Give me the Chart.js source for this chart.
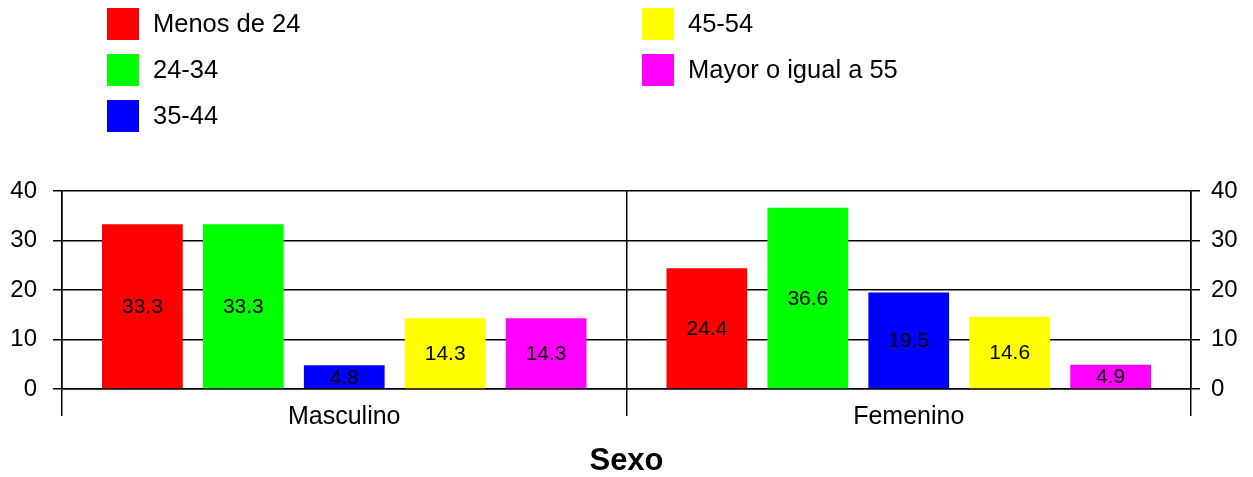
<!DOCTYPE html>
<html>
<head>
<meta charset="utf-8">
<script src="https://cdn.jsdelivr.net/npm/chart.js@4"></script>
<style>
  html, body { margin: 0; padding: 0; background: #fff; }
  #wrap { width: 1253px; height: 477px; }
</style>
</head>
<body>
<div id="wrap"><canvas id="grafico"></canvas></div>
<script>
// datos
var categorias = ["Masculino", "Femenino"];
var edades = ["Menos de 24", "24-34", "35-44", "45-54", "Mayor o igual a 55"];
var colores = ["#ff0000", "#00ff00", "#0000ff", "#ffff00", "#ff00ff"];
var menos24 = [33.3, 24.4];
var de24a34 = [33.3, 36.6];
var de35a44 = [4.8, 19.5];
var de45a54 = [14.3, 14.6];
var mayor55 = [14.3, 4.9];
var ticksY = [0, 10, 20, 30, 40];

var series = [menos24, de24a34, de35a44, de45a54, mayor55];
var fuente = "Arial, 'Liberation Sans', sans-serif";

// leyenda en dos columnas, dibujada a mano
var leyenda = {
  id: 'leyenda',
  afterDraw: function(chart) {
    var c = chart.ctx;
    c.save();
    c.font = "25.5px " + fuente;
    c.textBaseline = 'middle';
    c.textAlign = 'left';
    chart.data.datasets.forEach(function(ds, i) {
      var col = i < 3 ? 0 : 1;
      var fila = i < 3 ? i : i - 3;
      var x = col === 0 ? 107 : 642;
      var y = 8 + fila * 46;
      c.fillStyle = ds.backgroundColor;
      c.fillRect(x, y, 32, 32);
      c.fillStyle = '#000';
      c.fillText(ds.label, x + 46, y + 17);
    });
    c.restore();
  }
};

// valores dentro de las barras
var etiquetas = {
  id: 'etiquetas',
  afterDatasetsDraw: function(chart) {
    var c = chart.ctx;
    c.save();
    c.font = "21px " + fuente;
    c.fillStyle = '#000';
    c.textAlign = 'center';
    c.textBaseline = 'middle';
    chart.data.datasets.forEach(function(ds, i) {
      chart.getDatasetMeta(i).data.forEach(function(bar, j) {
        c.fillText(ds.data[j].toFixed(1), bar.x, (bar.y + bar.base) / 2 + 1);
      });
    });
    c.restore();
  }
};

function ancho62(s) { s.width = 62; }

var ctx = document.getElementById("grafico");

var grafico = new Chart(ctx, {
  type: 'bar',
  data: {
    labels: categorias,
    datasets: edades.map(function(e, i) {
      return {
        label: e,
        data: series[i],
        backgroundColor: colores[i],
        borderWidth: 0,
        categoryPercentage: 0.894,
        barPercentage: 0.8
      };
    })
  },
  plugins: [leyenda, etiquetas],
  options: {
    responsive: true,
    maintainAspectRatio: false,
    animation: false,
    layout: { padding: { top: 191, left: 0, right: 0, bottom: 0 } },
    plugins: {
      legend: { display: false },
      tooltip: { enabled: false }
    },
    scales: {
      x: {
        grid: { color: '#000', lineWidth: 1.5, tickLength: 27, offset: true },
        border: { color: '#000', width: 1.5 },
        ticks: { color: '#000', font: { family: fuente, size: 25 }, padding: -14 },
        title: {
          display: true,
          text: 'Sexo',
          color: '#000',
          font: { family: fuente, size: 31, weight: 'bold', lineHeight: 1 },
          padding: { top: 28, bottom: 0 }
        }
      },
      y: {
        min: 0, max: 40,
        afterBuildTicks: function(s) { s.ticks = ticksY.map(function(v) { return { value: v }; }); },
        afterFit: ancho62,
        grid: { color: '#000', lineWidth: 1.5, tickLength: 9 },
        border: { color: '#000', width: 1.5 },
        ticks: { color: '#000', font: { family: fuente, size: 24 }, padding: 16 }
      },
      y2: {
        position: 'right',
        min: 0, max: 40,
        afterBuildTicks: function(s) { s.ticks = ticksY.map(function(v) { return { value: v }; }); },
        afterFit: ancho62,
        grid: { color: '#000', lineWidth: 1.5, tickLength: 9, drawOnChartArea: false },
        border: { color: '#000', width: 1.5 },
        ticks: { color: '#000', font: { family: fuente, size: 24 }, padding: 11 }
      }
    }
  }
});
</script>
</body>
</html>
